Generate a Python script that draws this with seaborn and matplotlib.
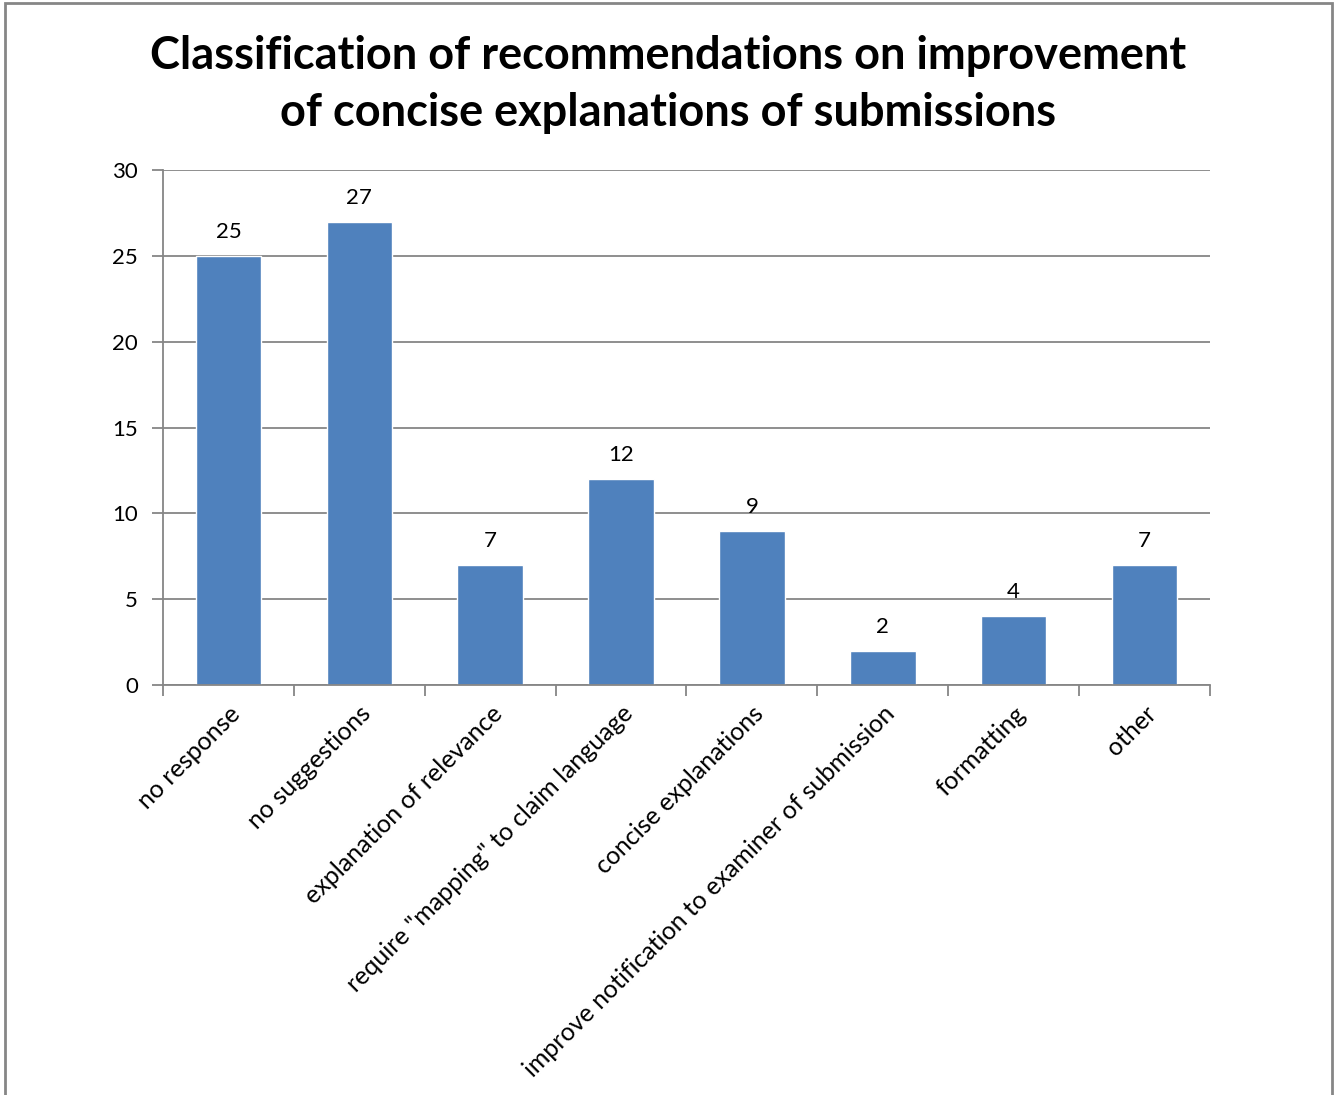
import matplotlib
matplotlib.use("Agg")
import matplotlib.pyplot as plt
import seaborn as sns
import pandas as pd
from matplotlib.patches import Rectangle

categories = ["no response", "no suggestions", "explanation of relevance",
              "require \"mapping\" to claim language", "concise explanations",
              "improve notification to examiner of submission", "formatting", "other"]
counts = [25, 27, 7, 12, 9, 2, 4, 7]
title = "Classification of recommendations on improvement\nof concise explanations of submissions"

sns.set_theme(style="white")
plt.rcParams['font.family'] = ['Lato', 'DejaVu Sans']
plt.rcParams['text.color'] = 'black'
plt.rcParams['xtick.color'] = 'black'
plt.rcParams['ytick.color'] = 'black'

df = pd.DataFrame({"category": categories, "count": counts})

fig = plt.figure(figsize=(13.42, 10.95), dpi=100)
ax = fig.add_axes([163/1342, 1 - 685/1095, (1210-163)/1342, (685-170)/1095])

sns.barplot(data=df, x="category", y="count", color="#4F81BD", saturation=1,
            width=0.5, ax=ax, order=categories)

ax.set_ylim(0, 30)
ax.set_xlim(-0.5, len(categories) - 0.5)
ax.set_yticks(range(0, 31, 5))
ax.yaxis.grid(True, color="#868686", linewidth=1.3)
ax.set_axisbelow(True)
for s in ["top", "right"]:
    ax.spines[s].set_visible(False)
for s in ["left", "bottom"]:
    ax.spines[s].set_color("#868686")
    ax.spines[s].set_linewidth(1.3)

ax.set_xlabel("")
ax.set_ylabel("")
ax.tick_params(axis="y", which="major", length=8, width=1.3, color="#868686",
               labelcolor="black", direction="out", left=True, labelsize=16, pad=10)
ax.set_xticks(range(len(categories)))
ax.set_xticklabels(categories, rotation=45, ha="right", rotation_mode="anchor",
                   fontsize=18, color="black")
ax.tick_params(axis="x", which="major", length=0, pad=12)
ax.set_xticks([i - 0.5 for i in range(len(categories) + 1)], minor=True)
ax.tick_params(axis="x", which="minor", length=8, width=1.3, color="#868686",
               direction="out", bottom=True)

for c in ax.containers:
    ax.bar_label(c, labels=[str(v) for v in counts], padding=10, fontsize=16,
                 color="black")

fig.suptitle(title, x=668/1342, y=1 - 35/1095, fontsize=32.5, fontweight="bold",
             va="top", linespacing=1.45, color="black")

fig.patches.append(Rectangle((5/1342, -0.01), (1332-5)/1342, 1 - 3/1095 + 0.01,
                             transform=fig.transFigure, fill=False,
                             edgecolor="#868686", linewidth=2))

fig.savefig("out.png", dpi=100)
